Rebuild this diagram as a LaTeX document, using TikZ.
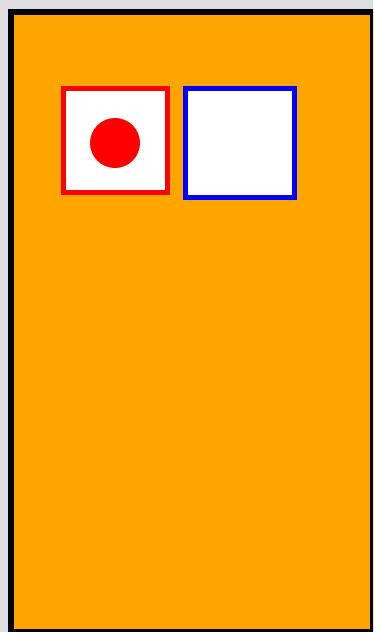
\documentclass[tikz,border=0pt]{standalone}
\definecolor{bggrey}{RGB}{222,222,226}
\definecolor{orangefill}{RGB}{255,165,0}
\tikzset{
  box/.style={line width=5pt, fill=white},
}
\begin{document}
\begin{tikzpicture}[x=1pt,y=-1pt]
\useasboundingbox (0,0) rectangle (373,632);
\fill[bggrey] (0,0) rectangle (373,632);
\begin{scope}
\clip (0,0) rectangle (373,632);
\draw[line width=5.5pt, fill=orangefill] (11,12) rectangle (372.5,631.5);
\end{scope}
\draw[box, draw=red] (63.5,88.5) rectangle (167.5,192.5);
\fill[red] (115,143) circle (25);
\draw[box, draw=blue] (185.5,88.5) rectangle (294.5,197.5);
\end{tikzpicture}
\end{document}
